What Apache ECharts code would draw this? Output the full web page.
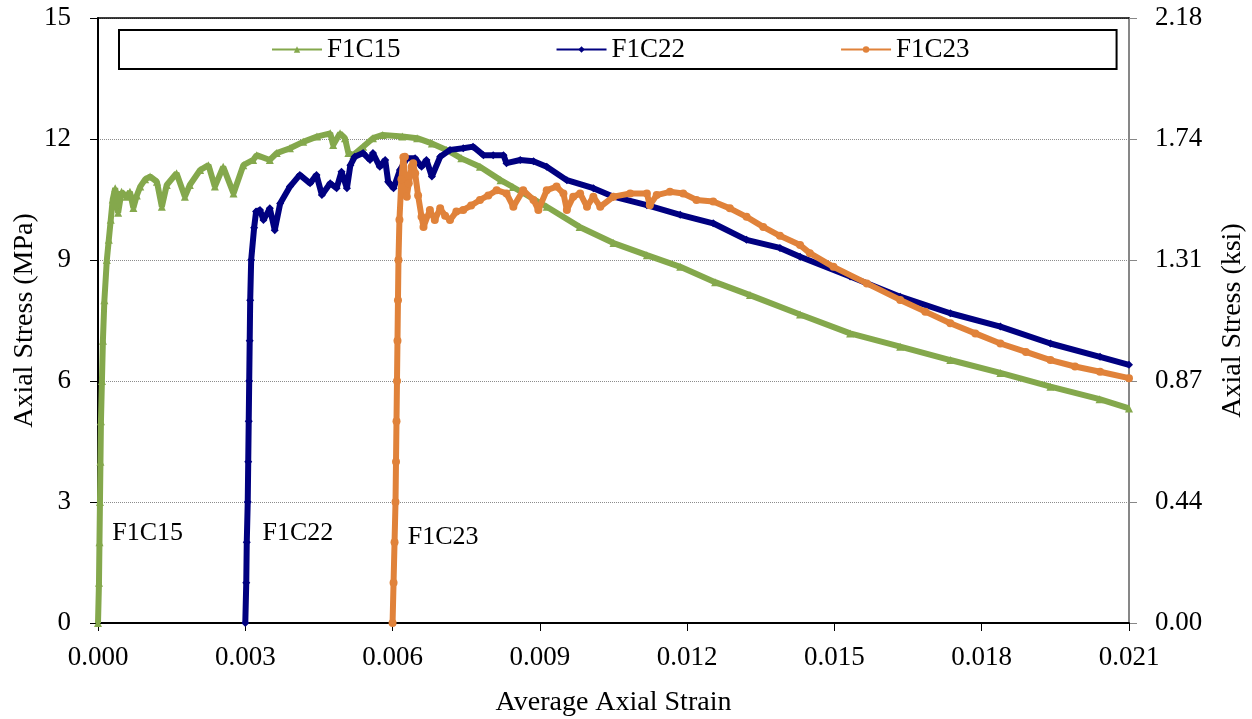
<!DOCTYPE html>
<html>
<head>
<meta charset="utf-8">
<script src="https://cdn.jsdelivr.net/npm/echarts@6/dist/echarts.min.js"></script>
<style>
  html, body { margin: 0; padding: 0; background: #fff; }
  #chart { width: 1252px; height: 719px; }
</style>
</head>
<body>
<div id="chart"></div>
<script>
// tick labels
const strainTicks = [0, 0.003, 0.006, 0.009, 0.012, 0.015, 0.018, 0.021]
const mpaTicks = [0, 3, 6, 9, 12, 15]
const ksiLabels = ['0.00', '0.44', '0.87', '1.31', '1.74', '2.18']

// F1C15 (green)
const f1c15Strain = [0, 0.00002, 0.00003, 0.00004, 0.00005, 0.00006, 0.00008, 0.0001, 0.00013, 0.00018,
  0.00022, 0.00026, 0.0003, 0.00035, 0.00041, 0.00048, 0.00058, 0.00065, 0.00072, 0.00079,
  0.00086, 0.00096, 0.00106, 0.0012, 0.0013, 0.0014, 0.0016, 0.00177, 0.00187, 0.00208,
  0.00225, 0.00238, 0.00255, 0.00276, 0.00296, 0.00316, 0.00323, 0.0035, 0.00364, 0.00391,
  0.00418, 0.00446, 0.00473, 0.00479, 0.00493, 0.00503, 0.0051, 0.0052, 0.0054, 0.0056,
  0.0058, 0.0062, 0.0065, 0.0068, 0.0071, 0.0074, 0.00778, 0.0082, 0.00845, 0.00914,
  0.00981, 0.0105, 0.01118, 0.01186, 0.01257, 0.01328, 0.0143, 0.01532, 0.01634, 0.01736,
  0.01838, 0.0194, 0.0204, 0.021]
const f1c15Stress = [0, 1, 2, 3, 4, 5, 6, 7, 8, 9,
  9.5, 10.0, 10.5, 10.78, 10.17, 10.69, 10.57, 10.69, 10.29, 10.6,
  10.82, 11.0, 11.07, 10.94, 10.32, 10.86, 11.15, 10.57, 10.86, 11.23,
  11.35, 10.82, 11.31, 10.65, 11.35, 11.48, 11.6, 11.48, 11.65, 11.77,
  11.93, 12.06, 12.14, 11.85, 12.14, 12.02, 11.65, 11.6, 11.81, 12.02,
  12.1, 12.06, 12.02, 11.89, 11.73, 11.52, 11.31, 10.98, 10.81, 10.32,
  9.82, 9.42, 9.12, 8.83, 8.45, 8.13, 7.65, 7.18, 6.85, 6.52,
  6.2, 5.86, 5.55, 5.32]

// F1C22 (navy)
const f1c22Strain = [0.003, 0.00302, 0.00303, 0.00305, 0.00306, 0.00307, 0.00308, 0.00309, 0.0031, 0.00312,
  0.00318, 0.00322, 0.0033, 0.00337, 0.0035, 0.0036, 0.00371, 0.00391, 0.00411, 0.00432,
  0.00445, 0.00456, 0.00473, 0.00486, 0.00496, 0.00507, 0.00514, 0.00523, 0.0054, 0.00554,
  0.0056, 0.00574, 0.00585, 0.00591, 0.00602, 0.00615, 0.00629, 0.00646, 0.00659, 0.00669,
  0.0068, 0.00697, 0.00717, 0.00744, 0.00764, 0.00785, 0.00805, 0.00826, 0.00832, 0.0086,
  0.00887, 0.00914, 0.00955, 0.01009, 0.0105, 0.01118, 0.01186, 0.01253, 0.01321, 0.01389,
  0.0143, 0.01532, 0.01634, 0.01736, 0.01838, 0.0194, 0.02041, 0.021]
const f1c22Stress = [0, 1, 2, 3, 4, 5, 6, 7, 8, 9,
  9.8, 10.2, 10.24, 9.99, 10.28, 9.74, 10.4, 10.82, 11.11, 10.9,
  11.11, 10.61, 10.9, 10.78, 11.19, 10.78, 11.35, 11.56, 11.65, 11.48,
  11.65, 11.31, 11.48, 10.94, 10.78, 11.23, 11.52, 11.52, 11.31, 11.48,
  11.07, 11.56, 11.73, 11.77, 11.81, 11.6, 11.6, 11.6, 11.4, 11.48,
  11.45, 11.31, 10.98, 10.78, 10.57, 10.36, 10.12, 9.91, 9.5, 9.3,
  9.08, 8.59, 8.09, 7.68, 7.35, 6.93, 6.6, 6.4]

// F1C23 (orange)
const f1c23Strain = [0.006, 0.00602, 0.00604, 0.00606, 0.00607, 0.00608, 0.00609, 0.0061, 0.00611, 0.00612,
  0.00614, 0.00618, 0.00622, 0.00625, 0.00629, 0.00633, 0.00639, 0.00642, 0.00646, 0.00652,
  0.00659, 0.00663, 0.00676, 0.00686, 0.00697, 0.00707, 0.00717, 0.0073, 0.00744, 0.0076,
  0.00778, 0.00795, 0.00812, 0.00832, 0.00846, 0.00866, 0.00887, 0.00897, 0.00914, 0.00934,
  0.00948, 0.00955, 0.00968, 0.00982, 0.00996, 0.01009, 0.01023, 0.0105, 0.01084, 0.01118,
  0.01124, 0.01138, 0.01165, 0.01192, 0.01219, 0.01253, 0.01287, 0.01321, 0.01355, 0.01389,
  0.0143, 0.0145, 0.01498, 0.01566, 0.01634, 0.01685, 0.01736, 0.01787, 0.01838, 0.0189,
  0.0194, 0.0199, 0.02041, 0.021]
const f1c23Stress = [0, 1, 2, 3, 4, 5, 6, 7, 8, 9,
  10, 11, 11.55, 11.56, 10.57, 10.9, 11.31, 11.4, 11.15, 10.6,
  10.07, 9.82, 10.24, 9.99, 10.28, 10.1, 9.99, 10.2, 10.24, 10.35,
  10.49, 10.6, 10.73, 10.65, 10.32, 10.73, 10.49, 10.24, 10.73, 10.82,
  10.65, 10.24, 10.57, 10.65, 10.32, 10.57, 10.32, 10.57, 10.65, 10.65,
  10.36, 10.61, 10.69, 10.65, 10.49, 10.45, 10.28, 10.07, 9.82, 9.6,
  9.37, 9.17, 8.83, 8.42, 8.01, 7.72, 7.43, 7.18, 6.93, 6.72,
  6.52, 6.36, 6.23, 6.07]

// in-plot labels: [name, strain, stress]
const curveLabels = [
  ['F1C15', 0.00101, 2.23],
  ['F1C22', 0.00407, 2.23],
  ['F1C23', 0.00703, 2.13],
]

const FONT = '"Liberation Serif", "Times New Roman", serif'
const colors = ['#84A84C', '#000080', '#E0823A']
const symbols = ['triangle', 'diamond', 'circle']
const names = ['F1C15', 'F1C22', 'F1C23']
const strains = [f1c15Strain, f1c22Strain, f1c23Strain]
const stresses = [f1c15Stress, f1c22Stress, f1c23Stress]

const chart = echarts.init(document.getElementById('chart'))

const series = names.map((name, i) => ({
  name,
  type: 'line',
  data: strains[i].map((x, k) => [x, stresses[i][k]]),
  symbol: symbols[i],
  symbolSize: 8,
  showSymbol: true,
  lineStyle: { color: colors[i], width: 6 },
  itemStyle: { color: colors[i] },
  z: 3 + i,
  markPoint: {
    symbol: 'rect',
    symbolSize: 1,
    itemStyle: { color: 'rgba(0,0,0,0)' },
    label: {
      show: true,
      position: 'inside',
      formatter: curveLabels[i][0],
      color: '#000',
      fontFamily: FONT,
      fontSize: 26,
    },
    data: [{ coord: [curveLabels[i][1], curveLabels[i][2]] }],
  },
}))

const option = {
  animation: false,
  backgroundColor: '#fff',
  grid: { left: 98, right: 123, top: 18, bottom: 96, outerBoundsMode: 'none', containLabel: false },
  legend: {
    data: names,
    left: 119,
    top: 30,
    padding: [6, 147, 6, 152],
    itemGap: 155,
    itemWidth: 50,
    itemHeight: 8,
    borderColor: '#000',
    borderWidth: 2,
    textStyle: { fontFamily: FONT, fontSize: 27, color: '#000' },
  },
  xAxis: [
    {
      type: 'value',
      min: strainTicks[0],
      max: strainTicks[strainTicks.length - 1],
      interval: 0.003,
      name: 'Average Axial Strain',
      nameLocation: 'middle',
      nameGap: 66,
      nameTextStyle: { fontFamily: FONT, fontSize: 28, color: '#000' },
      axisLine: { show: true, onZero: false, lineStyle: { color: '#000', width: 2 } },
      axisTick: { show: true, length: 8, lineStyle: { color: '#000', width: 1 } },
      axisLabel: {
        margin: 21,
        fontFamily: FONT,
        fontSize: 27,
        color: '#000',
        formatter: (v) => v.toFixed(3),
      },
      splitLine: { show: false },
    },
    {
      type: 'value',
      position: 'top',
      min: strainTicks[0],
      max: strainTicks[strainTicks.length - 1],
      axisLine: { show: true, onZero: false, lineStyle: { color: '#000', width: 1.5 } },
      axisTick: { show: false },
      axisLabel: { show: false },
      splitLine: { show: false },
    },
  ],
  yAxis: [
    {
      type: 'value',
      min: mpaTicks[0],
      max: mpaTicks[mpaTicks.length - 1],
      interval: 3,
      name: 'Axial Stress (MPa)',
      nameLocation: 'middle',
      nameGap: 59,
      nameMoveOverlap: false,
      nameTextStyle: { fontFamily: FONT, fontSize: 28, color: '#000' },
      axisLine: { show: true, onZero: false, lineStyle: { color: '#000', width: 2 } },
      axisTick: { show: true, length: 8, lineStyle: { color: '#000', width: 1 } },
      axisLabel: { margin: 27, fontFamily: FONT, fontSize: 27, color: '#000' },
      splitLine: { show: true, lineStyle: { color: '#8c8c8c', type: [1, 1], width: 1 } },
    },
    {
      type: 'value',
      position: 'right',
      min: 0,
      max: 2.175,
      interval: 0.435,
      name: 'Axial Stress (ksi)',
      nameLocation: 'middle',
      nameGap: 90,
      nameTextStyle: { fontFamily: FONT, fontSize: 28, color: '#000' },
      axisLine: { show: true, onZero: false, lineStyle: { color: '#878787', width: 2 } },
      axisTick: { show: true, length: 8, lineStyle: { color: '#878787', width: 1 } },
      axisLabel: {
        margin: 26,
        fontFamily: FONT,
        fontSize: 27,
        color: '#000',
        formatter: (v, idx) => ksiLabels[idx],
      },
      splitLine: { show: false },
    },
  ],
  series,
}

chart.setOption(option)
</script>
</body>
</html>
